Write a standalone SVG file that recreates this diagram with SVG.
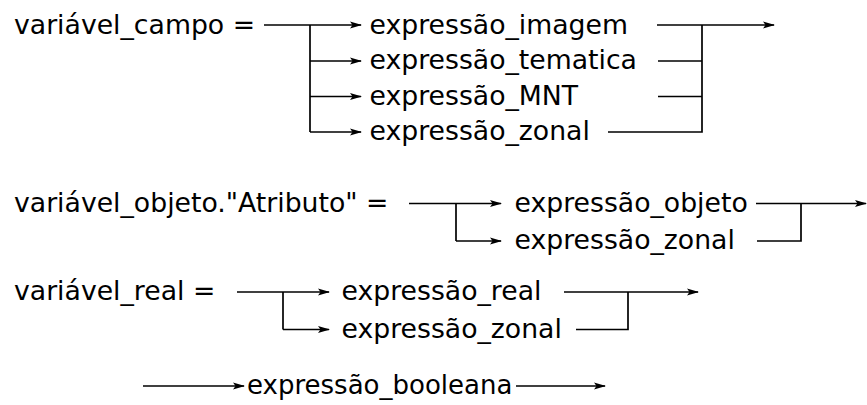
<svg xmlns="http://www.w3.org/2000/svg" width="867" height="405" viewBox="0 0 867 405">
<style>
text{font-family:"DejaVu Sans","Liberation Sans",sans-serif;font-size:26.7px;fill:#000}
.c{fill:none;stroke:#000;stroke-width:1.7}
.a{marker-end:url(#ah)}
</style>
<defs>
<marker id="ah" markerUnits="userSpaceOnUse" viewBox="0 0 12 8" refX="11" refY="4" markerWidth="12" markerHeight="8" orient="auto">
<path d="M0,0.6 L12,4 L0,7.4 L2.5,4 Z" fill="#000"/>
</marker>
</defs>
<rect width="867" height="405" fill="#fff"/>
<g id="connectors">
<path class="c a" d="M264,25 H361"/>
<path class="c" d="M310,25 V132"/>
<path class="c a" d="M310,61 H361"/>
<path class="c a" d="M310,96.5 H361"/>
<path class="c a" d="M310,132 H361"/>
<path class="c a" d="M657,25 H774"/>
<path class="c" d="M702,25 V132 H608"/>
<path class="c" d="M658,61 H702"/>
<path class="c" d="M658,96.5 H702"/>
<path class="c a" d="M409,203.5 H501"/>
<path class="c" d="M456,203.5 V241"/>
<path class="c a" d="M456,241 H501"/>
<path class="c a" d="M756,203.5 H866"/>
<path class="c" d="M801,203.5 V241 H757"/>
<path class="c a" d="M237,292 H329"/>
<path class="c" d="M283,292 V329.5"/>
<path class="c a" d="M283,329.5 H329"/>
<path class="c a" d="M564,292 H698"/>
<path class="c" d="M628,292 V329.5 H576"/>
<path class="c a" d="M143,386 H244"/>
<path class="c a" d="M516,386 H605"/>
</g>
<g id="variavel_campo"><text x="14" y="33.5">variável_campo =</text></g>
<g id="expressao_imagem"><text x="369.5" y="33.5">expressão_imagem</text></g>
<g id="expressao_tematica"><text x="369.5" y="69">expressão_tematica</text></g>
<g id="expressao_MNT"><text x="369.5" y="104.5">expressão_MNT</text></g>
<g id="expressao_zonal_1"><text x="369.5" y="140">expressão_zonal</text></g>
<g id="variavel_objeto"><text x="14" y="211.5">variável_objeto."Atributo" =</text></g>
<g id="expressao_objeto"><text x="514.5" y="211.5">expressão_objeto</text></g>
<g id="expressao_zonal_2"><text x="514.5" y="249">expressão_zonal</text></g>
<g id="variavel_real"><text x="14" y="300">variável_real =</text></g>
<g id="expressao_real"><text x="341.5" y="300">expressão_real</text></g>
<g id="expressao_zonal_3"><text x="341.5" y="337.5">expressão_zonal</text></g>
<g id="expressao_booleana"><text x="247" y="394" style="font-size:26px">expressão_booleana</text></g>
</svg>
